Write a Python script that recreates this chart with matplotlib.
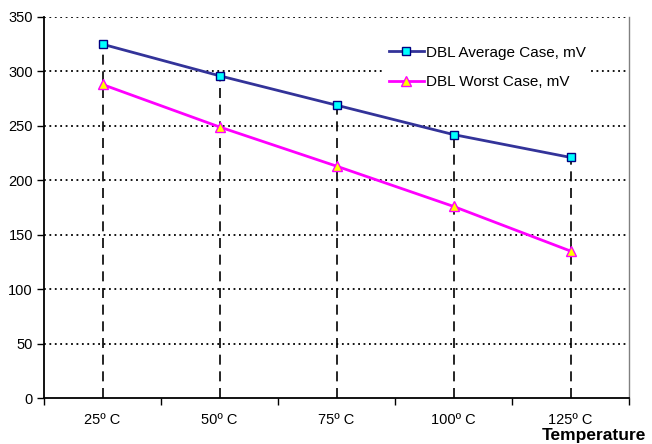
import matplotlib
matplotlib.use("Agg")
import matplotlib.pyplot as plt
import numpy as np

categories = ["25º C", "50º C", "75º C", "100º C", "125º C"]
avg_case = [325, 296, 269, 242, 221]
worst_case = [288, 249, 213, 176, 135]
y_ticks = [0, 50, 100, 150, 200, 250, 300, 350]

plt.rcParams['font.family'] = ['Liberation Sans', 'DejaVu Sans']

fig = plt.figure(figsize=(6.52, 4.44), dpi=100)
ax = fig.add_axes([44/652, 46/444, 585/652, 381/444])

x = np.arange(len(categories))
ax.set_xlim(-0.5, len(categories) - 0.5)
ax.set_ylim(0, 350)

# grid
for yv in y_ticks[1:]:
    ax.axhline(yv, color='black', lw=1.3, linestyle=(0, (1, 2)), zorder=1)

# drop lines
for xi, a in zip(x, avg_case):
    ax.plot([xi, xi], [0, a], color='black', lw=1.2, linestyle=(0, (6, 4)), zorder=2)

ax.plot(x, avg_case, color='#333399', lw=2, marker='s', markersize=6,
        markerfacecolor='#00FFFF', markeredgecolor='#000080', markeredgewidth=1,
        label='DBL Average Case, mV', zorder=4)
ax.plot(x, worst_case, color='#FF00FF', lw=2, marker='^', markersize=6.5,
        markerfacecolor='#FFFF00', markeredgecolor='#FF00FF', markeredgewidth=1,
        label='DBL Worst Case, mV', zorder=4)

ax.set_yticks(y_ticks)
ax.set_yticklabels([str(v) for v in y_ticks], fontsize=10.5)
ax.set_xticks(x)
ax.set_xticklabels(categories, fontsize=10.5)
ax.tick_params(axis='x', length=0, pad=10.5)
ax.set_xticks(np.arange(len(categories) + 1) - 0.5, minor=True)
ax.tick_params(axis='x', which='minor', length=5, width=1, direction='out', color='black')
ax.tick_params(axis='y', length=5, width=1, direction='out', pad=3)

ax.spines['top'].set_visible(False)
ax.spines['right'].set_color('#808080')
ax.spines['right'].set_linewidth(1)
ax.spines['left'].set_linewidth(1.3)
ax.spines['bottom'].set_linewidth(1.3)

leg = ax.legend(loc='upper left', bbox_to_anchor=(384/652, 1 - 41/444),
                bbox_transform=fig.transFigure, borderaxespad=0, frameon=True,
                fontsize=11, handlelength=2.3, handletextpad=0.15, labelspacing=1.0,
                borderpad=0.3, fancybox=False)
leg.get_frame().set_edgecolor('none')
leg.get_frame().set_facecolor('white')
leg.get_frame().set_alpha(1)

fig.text(646/652, 1 - 435/444, 'Temperature', fontsize=12.5, fontweight='bold',
         ha='right', va='center')

fig.savefig('out.png', dpi=100)
